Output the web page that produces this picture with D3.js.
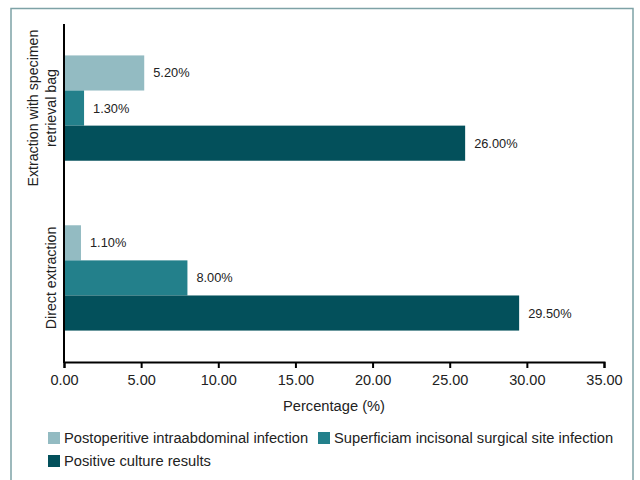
<!DOCTYPE html>
<html><head><meta charset="utf-8">
<script src="https://cdn.jsdelivr.net/npm/d3@7"></script>
<style>body{margin:0;background:#fff}svg{display:block;font-family:"Liberation Sans",Arial,sans-serif}</style>
</head><body><svg id="c" width="640" height="480"></svg>
<script>
const categories = ["Extraction with specimen retrieval bag", "Direct extraction"];
const categoryLines = [["Extraction with specimen", "retrieval bag"], ["Direct extraction"]];
const seriesNames = ["Postoperitive intraabdominal infection", "Superficiam incisonal surgical site infection", "Positive culture results"];
const intraabdominal = [5.2, 1.1];
const superficial = [1.3, 8.0];
const positiveCulture = [26.0, 29.5];
const xTicks = [0, 5, 10, 15, 20, 25, 30, 35];
const colors = ["#93bbc2", "#23808b", "#03505b"];

const seriesValues = [intraabdominal, superficial, positiveCulture];
const svg = d3.select("#c");
const m = {left: 64, top: 24, right: 604, bottom: 362};

svg.append("rect").attr("x", 11).attr("y", 8.5).attr("width", 622).attr("height", 520)
  .attr("fill", "none").attr("stroke", "#7ea2a6").attr("stroke-width", 1.5);

const x = d3.scaleLinear().domain([0, 35]).range([m.left, m.right]);
const y = d3.scaleBand().domain(categories).range([m.top, m.bottom]).paddingInner(0.38).paddingOuter(0.185);
const ys = d3.scaleBand().domain(d3.range(seriesNames.length)).range([0, y.bandwidth()]);

categories.forEach((c, ci) => {
  const g = svg.append("g").attr("transform", `translate(0,${y(c)})`);
  seriesValues.forEach((vals, si) => {
    g.append("rect").attr("x", x(0)).attr("y", ys(si)).attr("width", x(vals[ci]) - x(0))
      .attr("height", ys.bandwidth()).attr("fill", colors[si]);
    g.append("text").attr("x", x(vals[ci]) + 9).attr("y", ys(si) + ys.bandwidth() / 2)
      .attr("dominant-baseline", "central").attr("font-size", 12.8).attr("fill", "#222")
      .text(vals[ci].toFixed(2) + "%");
  });
});

const xa = svg.append("g").attr("transform", `translate(0,${m.bottom})`)
  .call(d3.axisBottom(x).tickValues(xTicks).tickFormat(d3.format(".2f")).tickSize(6).tickPadding(7));
xa.select(".domain").attr("stroke", "#000").attr("stroke-width", 2);
xa.selectAll(".tick line").attr("stroke", "#000").attr("stroke-width", 2);
xa.selectAll(".tick text").attr("font-size", 14.5).attr("font-family", "Liberation Sans, Arial, sans-serif").attr("fill", "#222");

svg.append("line").attr("x1", m.left).attr("x2", m.left).attr("y1", m.top).attr("y2", m.bottom + 1)
  .attr("stroke", "#000").attr("stroke-width", 2);

svg.append("text").attr("x", (m.left + m.right) / 2).attr("y", 406).attr("text-anchor", "middle")
  .attr("dominant-baseline", "central").attr("font-size", 14.7).attr("fill", "#222").text("Percentage (%)");

categories.forEach((c, ci) => {
  const lines = categoryLines[ci];
  const t = svg.append("text").attr("transform", `translate(51,${y(c) + y.bandwidth() / 2}) rotate(-90)`)
    .attr("text-anchor", "middle").attr("font-size", 14.2).attr("fill", "#222");
  lines.forEach((l, li) => {
    t.append("tspan").attr("x", 0).attr("y", (li - (lines.length - 1)) * 18)
      .attr("dominant-baseline", "central").text(l);
  });
});

const legendPos = [[48, 438], [318, 438], [48, 461]];
seriesNames.forEach((n, i) => {
  const [lx, ly] = legendPos[i];
  svg.append("rect").attr("x", lx).attr("y", ly - 6).attr("width", 12).attr("height", 12).attr("fill", colors[i]);
  svg.append("text").attr("x", lx + 16).attr("y", ly).attr("dominant-baseline", "central")
    .attr("font-size", 14.7).attr("fill", "#222").text(n);
});
</script></body></html>
